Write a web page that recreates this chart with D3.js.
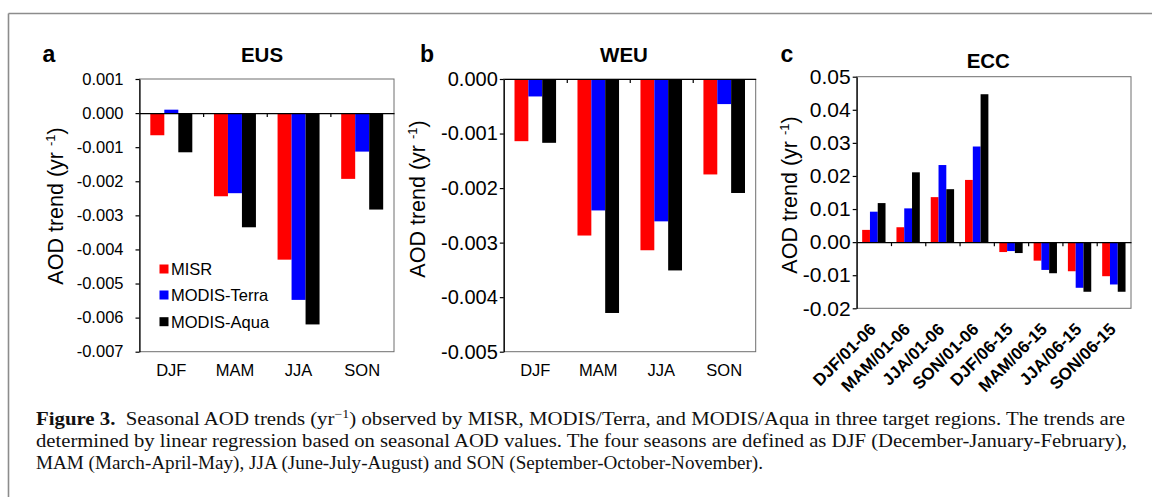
<!DOCTYPE html>
<html>
<head>
<meta charset="utf-8">
<script src="https://cdn.jsdelivr.net/npm/d3@7"></script>
<style>
  html, body { margin: 0; padding: 0; background: #fff; }
  svg { display: block; }
</style>
</head>
<body>
<svg id="chart" width="1152" height="497"></svg>
<script>
// ---------------- DATA ----------------
const seriesNames = ["MISR", "MODIS-Terra", "MODIS-Aqua"];
const seriesColors = ["#ff0000", "#0000ff", "#000000"];

const seasons = ["DJF", "MAM", "JJA", "SON"];

// Panel a: EUS
const eusMISR  = [-0.00065, -0.00244, -0.00430, -0.00193];
const eusTerra = [ 0.00010, -0.00235, -0.00548, -0.00113];
const eusAqua  = [-0.00115, -0.00335, -0.00620, -0.00283];

// Panel b: WEU
const weuMISR  = [-0.00114, -0.00287, -0.00314, -0.00175];
const weuTerra = [-0.00032, -0.00241, -0.00261, -0.00046];
const weuAqua  = [-0.00117, -0.00429, -0.00351, -0.00209];

// Panel c: ECC
const eccCategories = ["DJF/01-06", "MAM/01-06", "JJA/01-06", "SON/01-06",
                       "DJF/06-15", "MAM/06-15", "JJA/06-15", "SON/06-15"];
const eccMISR  = [0.0037, 0.0045, 0.0136, 0.0188, -0.0030, -0.0056, -0.0088, -0.0103];
const eccTerra = [0.0092, 0.0102, 0.0233, 0.0289, -0.0027, -0.0084, -0.0138, -0.0128];
const eccAqua  = [0.0118, 0.0211, 0.0160, 0.0447, -0.0033, -0.0094, -0.0150, -0.0150];

// Tick values and labels
const ticksA = [0.001, 0, -0.001, -0.002, -0.003, -0.004, -0.005, -0.006, -0.007];
const tickLabelsA = ["0.001", "0.000", "-0.001", "-0.002", "-0.003", "-0.004", "-0.005", "-0.006", "-0.007"];
const ticksB = [0, -0.001, -0.002, -0.003, -0.004, -0.005];
const tickLabelsB = ["0.000", "-0.001", "-0.002", "-0.003", "-0.004", "-0.005"];
const ticksC = [0.05, 0.04, 0.03, 0.02, 0.01, 0, -0.01, -0.02];
const tickLabelsC = ["0.05", "0.04", "0.03", "0.02", "0.01", "0.00", "-0.01", "-0.02"];

// ---------------- DRAW ----------------
const svg = d3.select("#chart");
const SANS = "'Liberation Sans', Arial, Helvetica, sans-serif";
const SERIF = "'Liberation Serif', 'Times New Roman', serif";

// outer frame lines
svg.append("line").attr("x1", 8.5).attr("x2", 1152).attr("y1", 13.5).attr("y2", 13.5)
  .attr("stroke", "#8c8c8c").attr("stroke-width", 1.6);
svg.append("line").attr("x1", 8.5).attr("x2", 8.5).attr("y1", 13.5).attr("y2", 497)
  .attr("stroke", "#8c8c8c").attr("stroke-width", 1.6);

function panel(cfg) {
  const g = svg.append("g");
  const x = d3.scaleBand().domain(cfg.cats).range([cfg.left, cfg.right]);
  const y = d3.scaleLinear().domain(cfg.domain).range([cfg.bottom, cfg.top]);
  const idx = d3.scaleLinear().domain([0, cfg.cats.length]).range([cfg.left, cfg.right]);

  // plot frame
  g.append("rect")
    .attr("x", cfg.left).attr("y", cfg.top)
    .attr("width", cfg.right - cfg.left).attr("height", cfg.bottom - cfg.top)
    .attr("fill", "none").attr("stroke", "#6e6e6e").attr("stroke-width", 1);

  // bars
  const bw = x.bandwidth() * cfg.barFrac;
  cfg.series.forEach((vals, si) => {
    g.append("g").selectAll("rect").data(vals).join("rect")
      .attr("x", (d, i) => x(cfg.cats[i]) + x.bandwidth() / 2 + (si - 1.5) * bw)
      .attr("y", d => Math.min(y(d), y(0)))
      .attr("width", bw)
      .attr("height", d => Math.abs(y(d) - y(0)))
      .attr("fill", seriesColors[si]);
  });

  // y axis
  const ya = g.append("g").attr("transform", `translate(${cfg.left},0)`)
    .call(d3.axisLeft(y).tickValues(cfg.ticks).tickFormat((d, i) => cfg.tickLabels[i])
      .tickSize(4).tickSizeOuter(0).tickPadding(cfg.tickPad));
  ya.selectAll("path,line").attr("stroke", "#000").attr("stroke-width", 1.2);
  ya.selectAll("text").attr("font-family", SANS).attr("font-size", cfg.tickFont).attr("fill", "#000");

  // zero axis with separators
  const za = g.append("g").attr("transform", `translate(0,${y(0)})`)
    .call(d3.axisBottom(idx).tickValues(d3.range(1, cfg.cats.length)).tickFormat("")
      .tickSize(4).tickSizeOuter(0));
  za.selectAll("path,line").attr("stroke", "#000").attr("stroke-width", 1.2);

  // category labels
  if (!cfg.rotated) {
    const xa = g.append("g").attr("transform", `translate(0,${cfg.bottom})`)
      .call(d3.axisBottom(x).tickSize(0).tickPadding(13));
    xa.select(".domain").remove();
    xa.selectAll("text").attr("font-family", SANS).attr("font-size", 16.5).attr("fill", "#000");
  } else {
    g.append("g").selectAll("text").data(cfg.cats).join("text")
      .attr("transform", d => `translate(${x(d) + x.bandwidth() / 2 + 3},${cfg.bottom + 22}) rotate(-45)`)
      .attr("text-anchor", "end")
      .attr("font-family", SANS).attr("font-weight", "bold").attr("font-size", 17)
      .text(d => d);
  }

  // panel letter and title
  g.append("text").attr("x", cfg.letterX).attr("y", 62)
    .attr("text-anchor", "middle").attr("font-family", SANS).attr("font-weight", "bold")
    .attr("font-size", 23).text(cfg.letter);
  g.append("text").attr("x", cfg.titleX).attr("y", cfg.titleY)
    .attr("text-anchor", "middle").attr("font-family", SANS).attr("font-weight", "bold")
    .attr("font-size", 20.5).text(cfg.title);

  // y axis title
  const yt = g.append("text")
    .attr("transform", `translate(${cfg.ytX},${cfg.ytY}) rotate(-90)`)
    .attr("text-anchor", "middle").attr("font-family", SANS).attr("font-size", 21.5);
  yt.append("tspan").text("AOD trend (yr ");
  yt.append("tspan").attr("font-size", 13).attr("dy", -8).text("-1");
  yt.append("tspan").attr("dy", 8).text(")");

  return { g, x, y };
}

const pa = panel({
  cats: seasons, series: [eusMISR, eusTerra, eusAqua],
  left: 139.5, right: 394, top: 79, bottom: 351.7,
  domain: [-0.007, 0.001], ticks: ticksA, tickLabels: tickLabelsA,
  tickPad: 12, tickFont: 16.5, barFrac: 0.22,
  letter: "a", letterX: 49, title: "EUS", titleX: 262, titleY: 62,
  ytX: 62.5, ytY: 206
});

// legend in panel a
const leg = pa.g.append("g");
seriesNames.forEach((name, i) => {
  const cy = [269, 295, 321.7][i];
  leg.append("rect").attr("x", 159.5).attr("y", cy - 4.5).attr("width", 9).attr("height", 9)
    .attr("fill", seriesColors[i]);
  leg.append("text").attr("x", 171).attr("y", cy).attr("dy", "0.36em")
    .attr("font-family", SANS).attr("font-size", 16.5).text(name);
});

panel({
  cats: seasons, series: [weuMISR, weuTerra, weuAqua],
  left: 503.8, right: 755.7, top: 79, bottom: 351.7,
  domain: [-0.005, 0], ticks: ticksB, tickLabels: tickLabelsB,
  tickPad: 2, tickFont: 20, barFrac: 0.22,
  letter: "b", letterX: 427, title: "WEU", titleX: 624, titleY: 62,
  ytX: 425, ytY: 199
});

panel({
  cats: eccCategories, series: [eccMISR, eccTerra, eccAqua],
  left: 856.7, right: 1131, top: 76.7, bottom: 308.3,
  domain: [-0.02, 0.05], ticks: ticksC, tickLabels: tickLabelsC,
  tickPad: 2, tickFont: 21, barFrac: 0.227, rotated: true,
  letter: "c", letterX: 787, title: "ECC", titleX: 988.3, titleY: 68,
  ytX: 797, ytY: 195
});

// caption
const cap = svg.append("g").attr("font-family", SERIF).attr("font-size", 18).attr("fill", "#111");
const l1 = cap.append("text").attr("x", 36).attr("y", 425)
  .attr("textLength", 1089).attr("lengthAdjust", "spacingAndGlyphs");
l1.append("tspan").attr("font-weight", "bold").text("Figure 3.");
l1.append("tspan").text("\u00a0 Seasonal AOD trends (yr");
l1.append("tspan").attr("font-size", 12).attr("dy", -7).text("\u22121");
l1.append("tspan").attr("dy", 7).text(") observed by MISR, MODIS/Terra, and MODIS/Aqua in three target regions. The trends are");
cap.append("text").attr("x", 36).attr("y", 447)
  .attr("textLength", 1091).attr("lengthAdjust", "spacingAndGlyphs")
  .text("determined by linear regression based on seasonal AOD values. The four seasons are defined as DJF (December-January-February),");
cap.append("text").attr("x", 36).attr("y", 469)
  .attr("textLength", 727).attr("lengthAdjust", "spacingAndGlyphs")
  .text("MAM (March-April-May), JJA (June-July-August) and SON (September-October-November).");
</script>
</body>
</html>
